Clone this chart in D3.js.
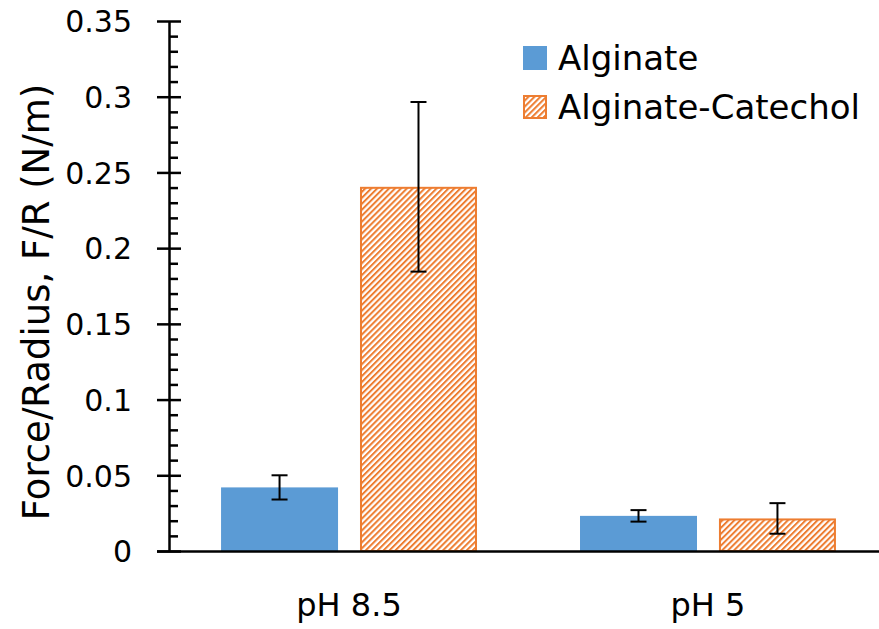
<!DOCTYPE html>
<html lang="en">
<head>
    <meta charset="utf-8">
    <title>Force/Radius bar chart</title>
    <style>
        body { margin: 0; background: #fff; }
        text { font-family: "DejaVu Sans", sans-serif; fill: #000; }
    </style>
</head>
<body>
    <script src="https://cdnjs.cloudflare.com/ajax/libs/d3/7.9.0/d3.min.js"></script>
    <script>

    const categories = ["pH 8.5", "pH 5"];
    const series = ["Alginate", "Alginate-Catechol"];
    const alginate = [0.042, 0.0232];
    const alginateErr = [0.008, 0.0038];
    const catechol = [0.2405, 0.0215];
    const catecholErr = [0.056, 0.0101];
    const majorTicks = [0, 0.05, 0.1, 0.15, 0.2, 0.25, 0.3, 0.35];
    const tickLabels = ["0", "0.05", "0.1", "0.15", "0.2", "0.25", "0.3", "0.35"];

    const width = 879;
    const height = 629;
    const margin = {top: 21, right: -9, bottom: 78, left: 169};

    const svg = d3.select("body")
        .append("svg")
        .attr("width", width)
        .attr("height", height);

    // diagonal hatch for the catechol bars
    const pat = svg.append("defs").append("pattern")
        .attr("id", "hatch")
        .attr("patternUnits", "userSpaceOnUse")
        .attr("width", 4.2)
        .attr("height", 4.2)
        .attr("patternTransform", "rotate(45)");
    pat.append("rect").attr("width", 4.2).attr("height", 4.2).attr("fill", "#fff");
    pat.append("rect").attr("width", 2).attr("height", 4.2).attr("fill", "#ED7D31");

    const scaleY = d3.scaleLinear()
        .domain([0, 0.35])
        .range([height - margin.bottom, margin.top]);

    const scaleX = d3.scaleBand()
        .domain(categories)
        .range([margin.left, width - margin.right])
        .paddingInner(0.287)
        .paddingOuter(0.145);

    const scaleS = d3.scaleBand()
        .domain(series)
        .range([0, scaleX.bandwidth()])
        .paddingInner(0.158);

    const rows = categories.map((c, i) => [
        {cat: c, s: series[0], v: alginate[i], e: alginateErr[i]},
        {cat: c, s: series[1], v: catechol[i], e: catecholErr[i]}
    ]).flat();

    const fills = {"Alginate": "#5B9BD5", "Alginate-Catechol": "url(#hatch)"};
    const hatched = d => d === series[1];

    // bars
    svg.append("g").selectAll("rect")
        .data(rows)
        .enter()
        .append("rect")
        .attr("x", d => scaleX(d.cat) + scaleS(d.s) + (hatched(d.s) ? 1 : 0))
        .attr("y", d => scaleY(d.v) + (hatched(d.s) ? 1 : 0))
        .attr("width", d => scaleS.bandwidth() - (hatched(d.s) ? 2 : 0))
        .attr("height", d => scaleY(0) - scaleY(d.v) - (hatched(d.s) ? 1 : 0))
        .attr("fill", d => fills[d.s])
        .attr("stroke", d => hatched(d.s) ? "#ED7D31" : "none")
        .attr("stroke-width", 2);

    // error bars
    const eb = svg.append("g").selectAll("g")
        .data(rows)
        .enter()
        .append("g")
        .attr("stroke", "#000")
        .attr("stroke-width", 2);
    const cx = d => scaleX(d.cat) + scaleS(d.s) + scaleS.bandwidth() / 2;
    eb.append("line")
        .attr("x1", cx).attr("x2", cx)
        .attr("y1", d => scaleY(d.v + d.e))
        .attr("y2", d => scaleY(d.v - d.e));
    eb.append("line")
        .attr("x1", d => cx(d) - 8).attr("x2", d => cx(d) + 8)
        .attr("y1", d => scaleY(d.v + d.e))
        .attr("y2", d => scaleY(d.v + d.e));
    eb.append("line")
        .attr("x1", d => cx(d) - 8).attr("x2", d => cx(d) + 8)
        .attr("y1", d => scaleY(d.v - d.e))
        .attr("y2", d => scaleY(d.v - d.e));

    // y axis: minor ticks inside, major ticks crossing the line
    const minorTicks = d3.range(1, 35).filter(i => i % 5 !== 0).map(i => i / 100);

    svg.append("g")
        .attr("transform", `translate(${margin.left},0)`)
        .call(d3.axisLeft(scaleY).tickValues(minorTicks).tickSize(-9).tickFormat(""))
        .call(g => g.select(".domain").remove())
        .selectAll("line").attr("stroke", "#000").attr("stroke-width", 2.5);

    svg.append("g")
        .attr("transform", `translate(${margin.left},0)`)
        .call(d3.axisLeft(scaleY).tickValues(majorTicks).tickSize(-12).tickFormat(""))
        .call(g => g.select(".domain").remove())
        .selectAll("line").attr("stroke", "#000").attr("stroke-width", 2.5);

    const yAxis = svg.append("g")
        .attr("transform", `translate(${margin.left},0)`)
        .call(d3.axisLeft(scaleY).tickValues(majorTicks).tickSize(12).tickSizeOuter(0)
            .tickPadding(25).tickFormat((d, i) => tickLabels[i]));
    yAxis.select(".domain").attr("stroke", "#000").attr("stroke-width", 2.5);
    yAxis.selectAll("line").attr("stroke", "#000").attr("stroke-width", 2.5);
    yAxis.selectAll("text")
        .style("font-size", "30px")
        .attr("dy", "0.36em");

    // x axis
    const xAxis = svg.append("g")
        .attr("transform", `translate(0,${scaleY(0)})`)
        .call(d3.axisBottom(scaleX).tickSize(0).tickSizeOuter(0).tickPadding(42));
    xAxis.select(".domain")
        .attr("d", `M${margin.left - 12},0.5H${width}`)
        .attr("stroke", "#000")
        .attr("stroke-width", 2.5);
    xAxis.selectAll("text").style("font-size", "32px");

    // y label
    svg.append("text")
        .attr("transform", `translate(49,${(scaleY(0) + scaleY(0.35)) / 2 + 16}) rotate(-90)`)
        .attr("text-anchor", "middle")
        .style("font-size", "37px")
        .text("Force/Radius, F/R (N/m)");

    // legend
    const legend = svg.append("g")
        .attr("transform", "translate(523,46)");
    const li = legend.selectAll("g")
        .data(series)
        .enter()
        .append("g")
        .attr("transform", (d, i) => `translate(0,${i * 49})`);
    li.append("rect")
        .attr("x", d => hatched(d) ? 1 : 0)
        .attr("y", d => hatched(d) ? 1 : 0)
        .attr("width", d => hatched(d) ? 22 : 24)
        .attr("height", d => hatched(d) ? 22 : 24)
        .attr("fill", d => fills[d])
        .attr("stroke", d => hatched(d) ? "#ED7D31" : "none")
        .attr("stroke-width", 2);
    li.append("text")
        .attr("x", 35)
        .attr("y", 24)
        .style("font-size", "34px")
        .text(d => d);

    </script>
</body>
</html>
